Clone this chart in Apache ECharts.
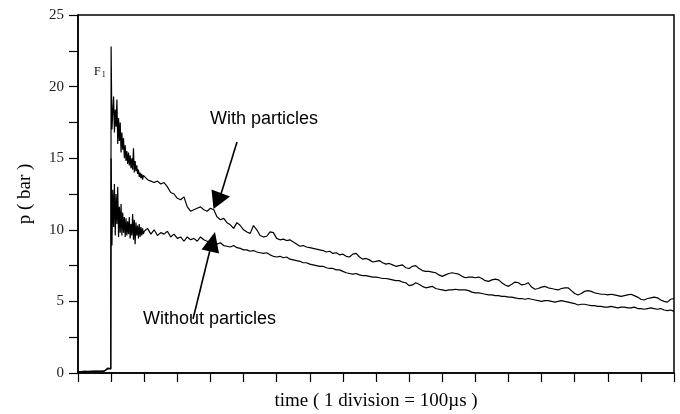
<!DOCTYPE html>
<html>
<head>
<meta charset="utf-8">
<script src="https://cdn.jsdelivr.net/npm/echarts@6/dist/echarts.min.js"></script>
<style>html,body{margin:0;padding:0;background:#fff}#c{width:680px;height:414px}</style>
</head>
<body>
<div id="c"></div>
<script>
// ---- data (time in divisions, 1 division = 100 µs; pressure in bar) ----
const preTime = [0, 0.1, 0.2, 0.3, 0.4, 0.5, 0.6, 0.7, 0.8, 0.85, 0.9, 0.95, 0.99];
const preWith = [0.08, 0.1, 0.12, 0.1, 0.13, 0.11, 0.14, 0.12, 0.15, 0.2, 0.35, 0.25, 0.3];
const preWithout = [0.1, 0.09, 0.11, 0.12, 0.1, 0.13, 0.12, 0.14, 0.13, 0.18, 0.3, 0.22, 0.28];

const earlyTime = [1.0, 1.025, 1.05, 1.075, 1.1, 1.125, 1.15, 1.175, 1.2, 1.225,
  1.25, 1.275, 1.3, 1.325, 1.35, 1.375, 1.4, 1.425, 1.45, 1.475,
  1.5, 1.525, 1.55, 1.575, 1.6, 1.625, 1.65, 1.675, 1.7, 1.725,
  1.75, 1.775, 1.8, 1.825, 1.85, 1.875, 1.9, 1.925, 1.95, 1.975];
const earlyWith = [22.8, 17.0, 18.2, 19.3, 16.8, 18.4, 17.2, 19.1, 16.0, 17.8,
  16.2, 17.5, 15.4, 16.8, 15.6, 16.4, 15.0, 15.9, 14.8, 15.5,
  14.6, 15.4, 14.5, 15.2, 14.3, 15.0, 14.2, 15.7, 14.0, 14.8,
  14.1, 14.5, 13.9, 14.2, 13.7, 14.0, 13.6, 13.9, 13.5, 13.8];
const earlyWithout = [15.0, 8.9, 12.8, 10.2, 13.2, 9.6, 12.5, 10.4, 13.0, 9.5,
  11.6, 9.8, 11.8, 9.6, 11.2, 9.8, 10.9, 9.5, 10.8, 9.6,
  10.6, 9.7, 10.9, 9.4, 10.4, 9.6, 11.1, 9.3, 10.7, 9.0,
  10.5, 9.6, 10.3, 9.4, 10.4, 9.5, 10.2, 9.6, 10.1, 9.7];

const mainTime = [
  2.0, 2.1, 2.2, 2.3, 2.4, 2.5, 2.6, 2.7, 2.8, 2.9,
  3.0, 3.1, 3.2, 3.3, 3.4, 3.5, 3.6, 3.7, 3.8, 3.9,
  4.0, 4.1, 4.2, 4.3, 4.4, 4.5, 4.6, 4.7, 4.8, 4.9,
  5.0, 5.1, 5.2, 5.3, 5.4, 5.5, 5.6, 5.7, 5.8, 5.9,
  6.0, 6.1, 6.2, 6.3, 6.4, 6.5, 6.6, 6.7, 6.8, 6.9,
  7.0, 7.1, 7.2, 7.3, 7.4, 7.5, 7.6, 7.7, 7.8, 7.9,
  8.0, 8.1, 8.2, 8.3, 8.4, 8.5, 8.6, 8.7, 8.8, 8.9,
  9.0, 9.1, 9.2, 9.3, 9.4, 9.5, 9.6, 9.7, 9.8, 9.9,
  10.0, 10.1, 10.2, 10.3, 10.4, 10.5, 10.6, 10.7, 10.8, 10.9,
  11.0, 11.1, 11.2, 11.3, 11.4, 11.5, 11.6, 11.7, 11.8, 11.9,
  12.0, 12.1, 12.2, 12.3, 12.4, 12.5, 12.6, 12.7, 12.8, 12.9,
  13.0, 13.1, 13.2, 13.3, 13.4, 13.5, 13.6, 13.7, 13.8, 13.9,
  14.0, 14.1, 14.2, 14.3, 14.4, 14.5, 14.6, 14.7, 14.8, 14.9,
  15.0, 15.1, 15.2, 15.3, 15.4, 15.5, 15.6, 15.7, 15.8, 15.9,
  16.0, 16.1, 16.2, 16.3, 16.4, 16.5, 16.6, 16.7, 16.8, 16.9,
  17.0, 17.1, 17.2, 17.3, 17.4, 17.5, 17.6, 17.7, 17.8, 17.9,
  18.0];
const mainWith = [
  13.8, 13.5, 13.4, 13.3, 13.4, 13.2, 13.3, 13.0, 12.6, 12.5,
  12.2, 12.1, 12.3, 11.6, 11.3, 11.4, 11.5, 11.6, 11.4, 11.3,
  11.5, 11.4, 10.9, 10.7, 10.8, 10.5, 10.35, 10.1, 10.5, 10.3,
  10.0, 9.85, 9.75, 10.3, 10.0, 9.6, 9.5, 9.55, 9.85, 9.8,
  9.4, 9.3, 9.35, 9.25, 9.3, 9.15, 9.0, 8.85, 8.9, 8.8,
  8.75, 8.7, 8.65, 8.6, 8.55, 8.45, 8.5, 8.35, 8.4, 8.25,
  8.3, 8.15, 8.1, 8.3, 8.35, 8.1, 7.95, 8.0, 7.9, 7.75,
  7.8, 7.85, 7.7, 7.6, 7.65, 7.55, 7.45, 7.5, 7.55, 7.35,
  7.3, 7.45, 7.5, 7.3, 7.15, 7.1, 7.1, 7.05, 7.0, 6.85,
  6.75, 6.85, 6.95, 7.0, 6.95, 6.9, 6.75, 6.65, 6.7, 6.7,
  6.65, 6.7, 6.6, 6.45, 6.4, 6.5, 6.55, 6.5, 6.3, 6.15,
  6.05, 6.2, 6.35, 6.3, 6.15, 6.2, 6.3, 6.0, 5.85, 5.9,
  6.0, 6.05, 5.95, 5.9, 5.85, 5.8, 5.9, 5.95, 5.95, 5.75,
  5.55, 5.45, 5.55, 5.7, 5.75, 5.7, 5.6, 5.55, 5.5, 5.5,
  5.45, 5.5, 5.45, 5.4, 5.35, 5.4, 5.45, 5.5, 5.4, 5.3,
  5.15, 5.1, 5.2, 5.25, 5.3, 5.25, 5.1, 5.0, 4.95, 5.15,
  5.2];
const mainWithout = [
  9.9, 10.1, 9.7, 10.0, 9.6, 9.8, 9.7, 9.9, 9.5, 9.7,
  9.4, 9.5, 9.2, 9.5, 9.3, 9.4, 9.2, 9.5, 9.3, 9.2,
  9.1, 9.15, 9.0, 9.1, 8.9, 8.85, 8.8, 8.9, 8.75, 8.7,
  8.6, 8.6, 8.5, 8.55, 8.45, 8.4, 8.35, 8.4, 8.25, 8.15,
  8.1, 8.15, 8.05, 8.1, 7.95, 7.9, 7.85, 7.8, 7.7, 7.7,
  7.6, 7.55, 7.5, 7.45, 7.45, 7.35, 7.3, 7.3, 7.2, 7.2,
  7.1, 7.0, 6.95, 6.9, 6.95, 6.85, 6.8, 6.8, 6.75, 6.7,
  6.7, 6.65, 6.6, 6.6, 6.55, 6.5, 6.45, 6.45, 6.35, 6.3,
  6.1, 6.15, 6.3, 6.2, 6.05, 5.95, 6.0, 6.05, 5.9, 5.85,
  5.8, 5.75, 5.8, 5.8, 5.85, 5.8, 5.8, 5.8, 5.75, 5.65,
  5.6, 5.6, 5.55, 5.5, 5.45, 5.45, 5.4, 5.4, 5.35, 5.35,
  5.3, 5.3, 5.25, 5.2, 5.2, 5.15, 5.2, 5.15, 5.1, 5.05,
  5.0, 5.05, 5.05, 5.0, 4.95, 5.0, 5.05, 5.0, 4.95, 4.9,
  4.85, 4.75, 4.8, 4.8, 4.75, 4.7, 4.7, 4.65, 4.65, 4.6,
  4.6, 4.65, 4.6, 4.55, 4.6, 4.6, 4.55, 4.55, 4.6, 4.5,
  4.5, 4.45, 4.5, 4.55, 4.5, 4.45, 4.5, 4.4, 4.35, 4.4,
  4.3];

const yTickLabels = ['0', '5', '10', '15', '20', '25'];
const xAxisTitle = 'time ( 1 division = 100\u00b5s )';
const yAxisTitle = 'p ( bar )';
const labelWith = 'With particles';
const labelWithout = 'Without particles';

function pairs(t, v) { return t.map((x, i) => [x, v[i]]); }
const allTime = preTime.concat(earlyTime, mainTime);
const withData = pairs(allTime, preWith.concat(earlyWith, mainWith));
const withoutData = pairs(allTime, preWithout.concat(earlyWithout, mainWithout));

const chart = echarts.init(document.getElementById('c'), null, { renderer: 'canvas' });
const serif = '"Liberation Serif", "DejaVu Serif", serif';
const sans = '"Liberation Sans", Arial, sans-serif';

chart.setOption({
  animation: false,
  backgroundColor: '#fff',
  grid: { left: 78, right: 6, top: 15, bottom: 41, outerBoundsMode: 'none', containLabel: false,
    show: true, borderColor: '#000', borderWidth: 1.5, backgroundColor: 'transparent' },
  xAxis: {
    type: 'value', min: 0, max: 18, interval: 1,
    name: xAxisTitle, nameLocation: 'middle', nameGap: 19,
    nameTextStyle: { fontFamily: serif, fontSize: 19, color: '#000' },
    axisLine: { show: true, lineStyle: { color: '#000', width: 1.5 } },
    axisTick: { show: true, inside: false, length: 9, lineStyle: { color: '#000', width: 1.2 } },
    axisLabel: { show: false },
    splitLine: { show: false }
  },
  yAxis: {
    type: 'value', min: 0, max: 25, interval: 2.5,
    name: yAxisTitle, nameLocation: 'middle', nameGap: 43,
    nameTextStyle: { fontFamily: serif, fontSize: 19, color: '#000' },
    axisLine: { show: true, lineStyle: { color: '#000', width: 1.5 } },
    axisTick: { show: true, inside: false, length: 9, lineStyle: { color: '#000', width: 1.2 } },
    axisLabel: {
      margin: 14, fontFamily: serif, fontSize: 15, color: '#222',
      formatter: v => (yTickLabels.indexOf(String(v)) >= 0 ? String(v) : '')
    },
    splitLine: { show: false }
  },
  series: [
    { name: labelWith, type: 'line', data: withData, showSymbol: false, symbol: 'none',
      lineStyle: { color: '#000', width: 1.2 }, z: 3 },
    { name: labelWithout, type: 'line', data: withoutData, showSymbol: false, symbol: 'none',
      lineStyle: { color: '#000', width: 1.2 }, z: 3 }
  ],
  graphic: [
    { type: 'text', left: 94, top: 66, z: 10,
      style: { text: 'F{s|1}', fontFamily: serif, fontSize: 12, fill: '#000',
        rich: { s: { fontFamily: serif, fontSize: 8, padding: [6, 0, 0, 1] } } } },
    { type: 'text', left: 210, top: 110, z: 10,
      style: { text: labelWith, fontFamily: sans, fontSize: 18, fill: '#000' } },
    { type: 'text', left: 143, top: 310, z: 10,
      style: { text: labelWithout, fontFamily: sans, fontSize: 18, fill: '#000' } },
    { type: 'line', z: 10, shape: { x1: 237, y1: 142, x2: 221, y2: 194 }, style: { stroke: '#000', lineWidth: 1.6 } },
    { type: 'polygon', z: 10, shape: { points: [[211.5, 189.5], [230, 196.5], [213.5, 209]] }, style: { fill: '#000' } },
    { type: 'line', z: 10, shape: { x1: 193, y1: 319, x2: 210, y2: 250 }, style: { stroke: '#000', lineWidth: 1.6 } },
    { type: 'polygon', z: 10, shape: { points: [[201.5, 249.5], [219, 253.5], [215, 232]] }, style: { fill: '#000' } }
  ]
});
</script>
</body>
</html>
